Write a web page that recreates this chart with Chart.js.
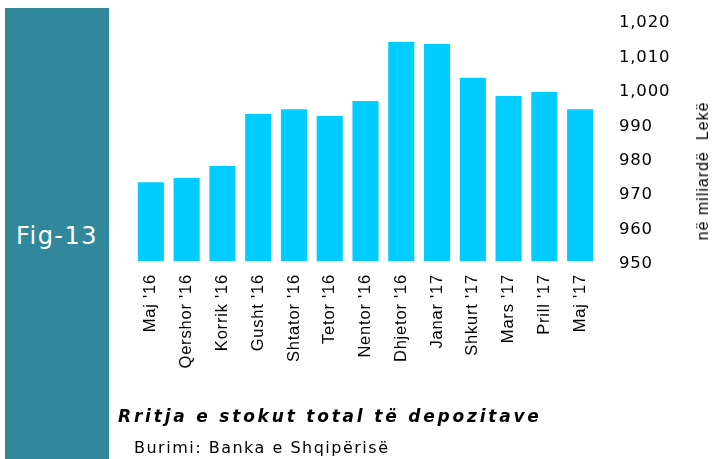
<!DOCTYPE html>
<html>
<head>
<meta charset="utf-8">
<script src="https://cdn.jsdelivr.net/npm/chart.js@4.4.1/dist/chart.umd.min.js"></script>
<style>
    body { margin: 0; background: #fff; }
    #wrap { position: relative; width: 712px; height: 459px; overflow: hidden; }
    #grafico { position: absolute; left: 0; top: 0; }
    .sidebar { position: absolute; left: 5px; top: 8px; width: 104px; height: 451px; background: #32889b; }
    .fig { position: absolute; left: 5px; width: 104px; top: 222px; text-align: center; color: #fff;
        font: 24px 'DejaVu Sans', sans-serif; letter-spacing: 1.5px; }
    .titulli { position: absolute; left: 118px; top: 406px; font: italic bold 17px 'DejaVu Sans', sans-serif;
        letter-spacing: 2.8px; color: #000; white-space: nowrap; }
    .burimi { position: absolute; left: 134px; top: 438px; font: 16px 'DejaVu Sans', sans-serif;
        letter-spacing: 1.5px; color: #000; white-space: nowrap; }
    .njesia { position: absolute; left: 703px; top: 171px; transform: translate(-50%, -50%) rotate(-90deg);
        font: 16px 'Liberation Sans', Arial, sans-serif; letter-spacing: 1px; color: #000; white-space: pre; }
</style>
</head>
<body>
<div id="wrap">
    <div class="sidebar"></div>
    <div class="fig">Fig-13</div>
    <canvas id="grafico" width="712" height="459"></canvas>
    <div class="njesia">në miliardë  Lekë</div>
    <div class="titulli">Rritja e stokut total të depozitave</div>
    <div class="burimi">Burimi: Banka e Shqipërisë</div>
</div>
<script>
// muajt
const muajt = ["Maj '16", "Qershor '16", "Korrik '16", "Gusht '16", "Shtator '16", "Tetor '16", "Nentor '16",
    "Dhjetor '16", "Janar '17", "Shkurt '17", "Mars '17", "Prill '17", "Maj '17"]
// stoku i depozitave, miliardë lekë
const depozitat = [972.9, 974.1, 977.6, 992.7, 994.1, 992.1, 996.5, 1013.6, 1013.0, 1003.2, 997.9, 999.1, 994.1]
const y_min = 950
const y_max = 1020
const y_hapi = 10

// hapesira mes shkronjave (canvas)
const hapesira = {
    id: 'hapesira',
    beforeDraw(chart) {
        chart.ctx.letterSpacing = '0.8px'
    }
}

const data_depozitat = {
    labels: muajt,
    datasets: [{
        label: 'Depozitat',
        data: depozitat,
        backgroundColor: '#00ccff',
        borderWidth: 0,
        barPercentage: 0.73,
        categoryPercentage: 1.0
    }]
}

const config_depozitat = {
    type: 'bar',
    data: data_depozitat,
    options: {
        responsive: false,
        animation: false,
        layout: {
            padding: { left: 133, top: 20, right: 0, bottom: 0 }
        },
        plugins: {
            legend: { display: false },
            tooltip: { enabled: false }
        },
        scales: {
            x: {
                grid: { display: false, drawTicks: false },
                border: { display: false },
                ticks: {
                    color: '#000',
                    minRotation: 90,
                    maxRotation: 90,
                    autoSkip: false,
                    padding: 13,
                    font: { family: 'Liberation Sans', size: 16.5 }
                },
                afterFit: (scale) => { scale.height = 198 }
            },
            y: {
                position: 'right',
                min: y_min,
                max: y_max,
                // vijat e padukshme, vetem per hapesiren para etiketave
                grid: { display: true, drawOnChartArea: false, drawTicks: true, tickLength: 21, color: 'rgba(0,0,0,0)' },
                border: { display: false },
                ticks: {
                    stepSize: y_hapi,
                    color: '#000',
                    padding: 0,
                    labelOffset: 3,
                    font: { family: 'DejaVu Sans', size: 16.5 },
                    callback: (v) => v.toLocaleString('en-US')
                },
                afterFit: (scale) => { scale.width = 114 }
            }
        }
    },
    plugins: [hapesira]
}

const ctx_depozitat = document.getElementById('grafico')
new Chart(ctx_depozitat, config_depozitat)
</script>
</body>
</html>
